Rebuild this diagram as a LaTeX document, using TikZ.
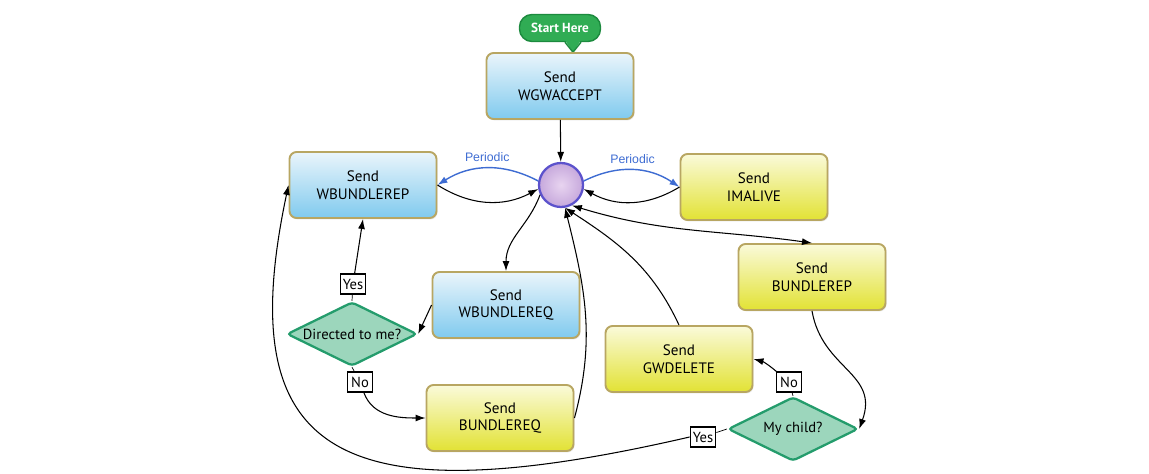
\documentclass[tikz,border=0pt]{standalone}
\usepackage{fontspec}
\setmainfont{PT Sans}
\newfontfamily\periodicfont{Liberation Sans}
\usepackage{tikz}
\usetikzlibrary{arrows.meta}
\usetikzlibrary{shapes}
\usetikzlibrary{shadows}
\definecolor{boxline}{RGB}{184,166,98}
\definecolor{bluetop}{RGB}{234,245,251}
\definecolor{bluebot}{RGB}{128,202,238}
\definecolor{yeltop}{RGB}{250,250,218}
\definecolor{yelbot}{RGB}{226,226,52}
\definecolor{diafill}{RGB}{156,214,188}
\definecolor{diaedge}{RGB}{36,156,108}
\definecolor{startgreen}{RGB}{48,172,84}
\definecolor{startedge}{RGB}{28,138,62}
\definecolor{hubin}{RGB}{232,212,240}
\definecolor{hubout}{RGB}{198,168,220}
\definecolor{hubedge}{RGB}{92,82,204}
\definecolor{periodicblue}{RGB}{62,108,210}

\begin{document}
\begin{tikzpicture}[boxnode/.style={rectangle, rounded corners=4pt, draw=boxline, line width=1.1pt, minimum width=2.94cm, minimum height=1.32cm, align=center, font=\fontsize{8.6}{10}\selectfont, drop shadow={opacity=0.2, shadow xshift=0.6pt, shadow yshift=-0.8pt}},
bluebox/.style={boxnode, top color=bluetop, bottom color=bluebot},
yellowbox/.style={boxnode, top color=yeltop, bottom color=yelbot},
decision/.style={diamond, aspect=2, inner sep=0pt, minimum width=2.6cm, minimum height=1.28cm, rounded corners=2pt, draw=diaedge, line width=1.3pt, fill=diafill, font=\fontsize{8.3}{9.5}\selectfont},
answer/.style={rectangle, draw, fill=white, line width=0.6pt, inner sep=1.5pt, minimum width=0.5cm, minimum height=0.4cm, font=\fontsize{8.3}{9.5}\selectfont}]
\tikzset{edge/.style = {-{Latex[width=1.4mm, length=2mm]}, line width=0.6pt}}
\tikzset{periodic/.style = {-{Latex[width=1.4mm, length=2mm]}, line width=0.8pt, periodicblue}}
\useasboundingbox (0,0) rectangle (22.98,9.46);
\node[rectangle, rounded corners=0.25cm, draw=startedge, line width=0.8pt, fill=startgreen, minimum width=1.62cm, minimum height=0.54cm, text=white, font=\fontsize{7.5}{9}\selectfont\bfseries] (start) at (11.2,8.9) {Start Here};
\fill[startgreen] ([xshift=0.1cm,yshift=0.04cm]start.south) -- ([xshift=0.26cm,yshift=-0.2cm]start.south) -- ([xshift=0.42cm,yshift=0.04cm]start.south) -- cycle;
\draw[startedge, line width=0.8pt] ([xshift=0.1cm]start.south) -- ([xshift=0.26cm,yshift=-0.2cm]start.south) -- ([xshift=0.42cm]start.south);
\node[bluebox] (wgwaccept) at (11.2,7.74) {Send\\WGWACCEPT};
\node[circle, minimum size=0.88cm, inner sep=0pt, draw=hubedge, line width=1.3pt, inner color=hubin, outer color=hubout] (hub) at (11.22,5.76) {};
\node[bluebox] (wbundlerep) at (7.26,5.76) {Send\\WBUNDLEREP};
\node[yellowbox] (imalive) at (15.08,5.72) {Send\\IMALIVE};
\node[yellowbox] (bundlerep) at (16.24,3.92) {Send\\BUNDLEREP};
\node[bluebox] (wbundlereq) at (10.12,3.36) {Send\\WBUNDLEREQ};
\node[decision] (directed) at (7.04,2.78) {Directed to me?};
\node[answer] (yesL) at (7.06,3.78) {Yes};
\node[answer] (noL) at (7.2,1.82) {No};
\node[yellowbox] (bundlereq) at (10.0,1.1) {Send\\BUNDLEREQ};
\node[yellowbox] (gwdelete) at (13.58,2.28) {Send\\GWDELETE};
\node[decision] (mychild) at (15.86,0.88) {My child?};
\node[answer] (noR) at (15.78,1.82) {No};
\node[answer] (yesR) at (14.06,0.72) {Yes};
\draw[edge] (wgwaccept) -- (hub);
\draw[periodic] (hub.170) to[bend right=30] node[above, font=\periodicfont\fontsize{7}{8}\selectfont] {Periodic} (wbundlerep.east);
\draw[edge] (wbundlerep.east) to[bend right=30] (hub.190);
\draw[periodic] (hub.10) to[bend left=30] node[above, font=\periodicfont\fontsize{7}{8}\selectfont] {Periodic} (imalive.west);
\draw[edge] (imalive.west) to[bend left=30] (hub.350);
\draw[edge] (hub.205) to[out=250, in=90] (wbundlereq.north);
\draw[edge] (wbundlereq.west) -- (directed.east);
\draw (directed.north) -- (yesL);
\draw[edge] (yesL) -- (wbundlerep.south);
\draw (directed.south) -- (noL);
\draw[edge] (noL) to[out=-70, in=180] (bundlereq.west);
\draw[edge] (bundlereq.east) to[out=75, in=-76] (hub.-80);
\draw[edge] (gwdelete.north) to[out=115, in=-33] (hub.-80);
\draw[{Latex[width=1.4mm, length=2mm]}-{Latex[width=1.4mm, length=2mm]}, line width=0.6pt] (hub.-62) to[out=-17, in=172] (bundlerep.north);
\draw[edge] (bundlerep.south) to[out=-80, in=70, looseness=1.2] (mychild.east);
\draw (mychild.north) -- (noR);
\draw[edge] (noR) to[out=140, in=-15] (gwdelete.east);
\draw (mychild.west) -- (yesR);
\draw[edge] (yesR.west) .. controls +(193:7.3) and +(258:5.5) .. (wbundlerep.west);
%\draw[edge] (start) -- (wgwaccept);
\end{tikzpicture}
\end{document}
